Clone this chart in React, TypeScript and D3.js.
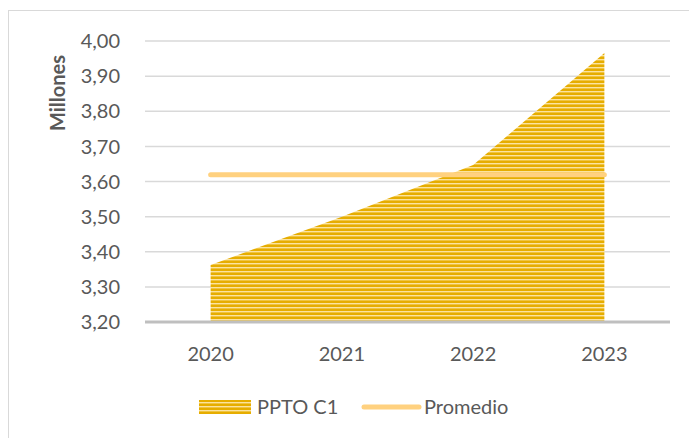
import React from "react";
import * as d3 from "d3";

const categories = ["2020", "2021", "2022", "2023"];
const pptoValues = [3.362, 3.5, 3.647, 3.966];
const promedioValue = 3.619;
const yTicks = [3.2, 3.3, 3.4, 3.5, 3.6, 3.7, 3.8, 3.9, 4.0];

const W = 689;
const H = 438;
const margin = { top: 41, right: 19, bottom: 116, left: 145 };
const font = "Lato, 'Open Sans', sans-serif";

export default function App() {
  const innerW = W - margin.left - margin.right;
  const innerH = H - margin.top - margin.bottom;

  const x = d3.scaleBand<string>().domain(categories).range([0, innerW]);
  const y = d3.scaleLinear().domain([3.2, 4.0]).range([innerH, 0]);
  const cx = (c: string) => (x(c) || 0) + x.bandwidth() / 2;

  const area = d3
    .area<number>()
    .x((_d, i) => cx(categories[i]))
    .y0(innerH)
    .y1((d) => y(d));

  const fmt = (v: number) => v.toFixed(2).replace(".", ",");

  return (
    <svg
      width={W}
      height={H}
      style={{ position: "absolute", left: 0, top: 0, background: "#fff" }}
    >
      <defs>
        <pattern id="stripes" width="4" height="4" patternUnits="userSpaceOnUse">
          <rect width="4" height="4" fill="#E6AD00" />
          <rect y="2" width="4" height="1" fill="#FBE3A0" />
          <rect y="3" width="4" height="1" fill="#F0C440" />
        </pattern>
      </defs>
      <rect x={8.5} y={10.5} width={700} height={440} fill="none" stroke="#d9d9d9" />
      <g transform={`translate(${margin.left},${margin.top})`}>
        {yTicks.slice(1).map((t) => (
          <line key={t} x1={0} x2={innerW} y1={y(t)} y2={y(t)} stroke="#d9d9d9" strokeWidth={1.5} />
        ))}
        <path d={area(pptoValues) || ""} fill="url(#stripes)" />
        <line
          x1={cx(categories[0])}
          x2={cx(categories[categories.length - 1])}
          y1={y(promedioValue)}
          y2={y(promedioValue)}
          stroke="#FFD17F"
          strokeWidth={5}
          strokeLinecap="round"
        />
        <line x1={0} x2={innerW} y1={innerH} y2={innerH} stroke="#bfbfbf" strokeWidth={3} />
        {yTicks.map((t) => (
          <text
            key={t}
            x={-25}
            y={y(t)}
            dy="0.36em"
            textAnchor="end"
            fontFamily={font}
            fontSize={20}
            fill="#595959"
          >
            {fmt(t)}
          </text>
        ))}
        {categories.map((c) => (
          <text
            key={c}
            x={cx(c)}
            y={innerH + 32}
            dy="0.36em"
            textAnchor="middle"
            fontFamily={font}
            fontSize={20}
            fill="#595959"
          >
            {c}
          </text>
        ))}
      </g>
      <text
        transform={`translate(65,93) rotate(-90)`}
        textAnchor="middle"
        fontFamily={font}
        fontSize={20}
        fontWeight="bold"
        fill="#595959"
      >
        Millones
      </text>
      <g fontFamily={font} fontSize={20} fill="#595959">
        <rect x={199} y={400} width={52} height={14} fill="url(#stripes)" />
        <text x={257} y={407} dy="0.36em">PPTO C1</text>
        <line x1={364} x2={419} y1={407} y2={407} stroke="#FFD17F" strokeWidth={5} strokeLinecap="round" />
        <text x={424} y={407} dy="0.36em">Promedio</text>
      </g>
    </svg>
  );
}
